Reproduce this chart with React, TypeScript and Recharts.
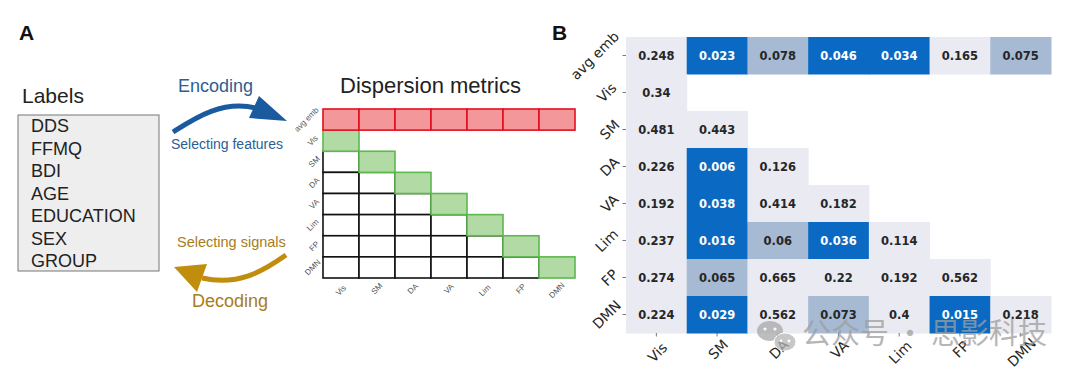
import { ScatterChart, Scatter, XAxis, YAxis } from "recharts";

// ── data ─────────────────────────────────────────────
const ROWS = ["avg emb", "Vis", "SM", "DA", "VA", "Lim", "FP", "DMN"];
const COLS = ["Vis", "SM", "DA", "VA", "Lim", "FP", "DMN"];

const avgEmb = [0.248, 0.023, 0.078, 0.046, 0.034, 0.165, 0.075];
const vis = [0.34];
const sm = [0.481, 0.443];
const da = [0.226, 0.006, 0.126];
const va = [0.192, 0.038, 0.414, 0.182];
const lim = [0.237, 0.016, 0.06, 0.036, 0.114];
const fp = [0.274, 0.065, 0.665, 0.22, 0.192, 0.562];
const dmn = [0.224, 0.029, 0.562, 0.073, 0.4, 0.015, 0.218];
const pRows = [avgEmb, vis, sm, da, va, lim, fp, dmn];

const LABELS = ["DDS", "FFMQ", "BDI", "AGE", "EDUCATION", "SEX", "GROUP"];

// panel A grid kinds: avg emb row red, diagonal green, below diagonal white
const gridA = ROWS.flatMap((_, r) =>
  COLS.map((_, c) => ({
    x: c,
    y: r,
    kind: r === 0 ? "red" : c === r - 1 ? "green" : c < r - 1 ? "white" : null,
  }))
).filter((d) => d.kind !== null)
 .sort((a, b) => order(a.kind) - order(b.kind));

function order(k: string | null) {
  return k === "white" ? 0 : k === "green" ? 1 : 2;
}

const heatB = pRows.flatMap((vals, r) => vals.map((v, c) => ({ x: c, y: r, v })));

const SANS = "'Liberation Sans', Arial, sans-serif";
const DEJA = "'DejaVu Sans', sans-serif";

function cellColor(v: number) {
  if (v < 0.05) return "#0A6AC3";
  if (v < 0.1) return "#A6BAD4";
  return "#EAEAF2";
}

// rotated label centred at (cx, cy)
function RotText({ cx, cy, text, fs, fill, family }: any) {
  return (
    <text
      x={cx} y={cy}
      transform={`rotate(-45 ${cx} ${cy})`}
      textAnchor="middle" dominantBaseline="central"
      fontSize={fs} fill={fill} fontFamily={family}
    >
      {text}
    </text>
  );
}

function side(text: string, fs: number, k: number) {
  return 0.707 * (text.length * k * fs + fs * 0.9);
}

// ── panel B ticks ───────────────────────────────────
function XTickB({ x, y, payload }: any) {
  const t = COLS[payload.value];
  const s = side(t, 14, 0.6);
  return (
    <g>
      <line x1={x} x2={x} y1={y} y2={y + 3.5} stroke="#555" strokeWidth={0.8} />
      <RotText cx={x + 1} cy={y + 6 + s / 2} text={t} fs={14} fill="#262626" family={DEJA} />
    </g>
  );
}

function YTickB({ x, y, payload }: any) {
  const t = ROWS[payload.value];
  const s = side(t, 14, 0.6);
  return (
    <g>
      <line x1={x - 3.5} x2={x} y1={y} y2={y} stroke="#555" strokeWidth={0.8} />
      <RotText cx={x - 6 - s / 2} cy={y} text={t} fs={14} fill="#262626" family={DEJA} />
    </g>
  );
}

// ── panel A ticks ───────────────────────────────────
function XTickA({ x, y, payload }: any) {
  const t = COLS[payload.value];
  const s = side(t, 8, 0.58);
  return <RotText cx={x} cy={y + 5 + s / 2} text={t} fs={8} fill="#555" family={SANS} />;
}

function YTickA({ x, y, payload }: any) {
  const t = ROWS[payload.value];
  const s = side(t, 8, 0.55);
  return <RotText cx={x - 3 - s / 2} cy={y} text={t} fs={8} fill="#555" family={SANS} />;
}

// cell sizes follow plot area / number of categories
const B_W = 425, B_H = 296;
const A_W = 252, A_H = 169;

function CellB(props: any) {
  const { cx, cy, payload } = props;
  const cw = B_W / COLS.length, ch = B_H / ROWS.length;
  const v = payload.v as number;
  return (
    <g>
      <rect x={cx - cw / 2} y={cy - ch / 2} width={cw + 0.5} height={ch + 0.5} fill={cellColor(v)} />
      <text
        x={cx} y={cy} textAnchor="middle" dominantBaseline="central"
        fontSize={11.5} fontWeight="bold" fontFamily={DEJA}
        fill={v < 0.05 ? "#ffffff" : "#262626"}
      >
        {String(v)}
      </text>
    </g>
  );
}

function CellA(props: any) {
  const { cx, cy, payload } = props;
  const cw = A_W / COLS.length, ch = A_H / ROWS.length;
  const style =
    payload.kind === "red"
      ? { fill: "#F4979B", stroke: "#E3101E" }
      : payload.kind === "green"
      ? { fill: "#B2DAA4", stroke: "#5DB84E" }
      : { fill: "#ffffff", stroke: "#111111" };
  return (
    <rect
      x={cx - cw / 2} y={cy - ch / 2} width={cw} height={ch}
      fill={style.fill} stroke={style.stroke} strokeWidth={1.6}
    />
  );
}

const idxCols = COLS.map((_, i) => i);
const idxRows = ROWS.map((_, i) => i);

export default function App() {
  return (
    <div style={{ position: "absolute", left: 0, top: 0, width: 1080, height: 381, background: "#fff", overflow: "hidden" }}>
      {/* Panel A grid */}
      <div style={{ position: "absolute", left: 0, top: 0 }}>
        <ScatterChart width={600} height={381} margin={{ top: 109, right: 25, bottom: 73, left: 293 }}>
          <XAxis
            type="number" dataKey="x" domain={[-0.5, 6.5]} ticks={idxCols} interval={0}
            height={30} tickSize={0} tickMargin={0} axisLine={false} tickLine={false} tick={<XTickA />}
          />
          <YAxis
            type="number" dataKey="y" domain={[-0.5, 7.5]} ticks={idxRows} interval={0} reversed
            width={30} tickSize={0} tickMargin={0} axisLine={false} tickLine={false} tick={<YTickA />}
          />
          <Scatter data={gridA} shape={CellA} isAnimationActive={false} />
        </ScatterChart>
      </div>

      {/* Panel B heatmap */}
      <div style={{ position: "absolute", left: 560, top: 0 }}>
        <ScatterChart width={520} height={381} margin={{ top: 37, right: 29, bottom: 8, left: 6 }}>
          <XAxis
            type="number" dataKey="x" domain={[-0.5, 6.5]} ticks={idxCols} interval={0}
            height={40} tickSize={0} tickMargin={0} axisLine={false} tickLine={false} tick={<XTickB />}
          />
          <YAxis
            type="number" dataKey="y" domain={[-0.5, 7.5]} ticks={idxRows} interval={0} reversed
            width={60} tickSize={0} tickMargin={0} axisLine={false} tickLine={false} tick={<YTickB />}
          />
          <Scatter data={heatB} shape={CellB} isAnimationActive={false} />
        </ScatterChart>
      </div>

      {/* annotations */}
      <svg width={1080} height={381} style={{ position: "absolute", left: 0, top: 0, pointerEvents: "none" }}>
        <text x={19} y={40} fontSize={21} fontWeight="bold" fontFamily={SANS} fill="#111">A</text>
        <text x={552} y={40} fontSize={21} fontWeight="bold" fontFamily={SANS} fill="#111">B</text>

        <text x={22} y={103} fontSize={21} fontFamily={SANS} fill="#222">Labels</text>
        <rect x={18} y={115} width={141} height={156} fill="#EEEEEE" stroke="#777" strokeWidth={1} />
        {LABELS.map((l, i) => (
          <text key={l} x={31} y={132 + i * 22.5} fontSize={18} fontFamily={SANS} fill="#222">{l}</text>
        ))}

        <text x={178} y={92} fontSize={18} fontFamily={SANS} fill="#2D5E94">Encoding</text>
        <path d="M173,132 C195,118 222,100 256,108" fill="none" stroke="#1A5A9E" strokeWidth={5} />
        <polygon points="259,96 287,121 249,118" fill="#1A5A9E" />
        <text x={171} y={149} fontSize={14} fontFamily={SANS} fill="#2D5E94">Selecting features</text>

        <text x={177} y={247} fontSize={14.5} fontFamily={SANS} fill="#A67C1C">Selecting signals</text>
        <path d="M286,255 C262,272 238,286 202,278" fill="none" stroke="#C08D0D" strokeWidth={5} />
        <polygon points="174,267 207,264 197,292" fill="#C08D0D" />
        <text x={192} y={307} fontSize={18} fontFamily={SANS} fill="#A67C1C">Decoding</text>

        <text x={340} y={93} fontSize={22} fontFamily={SANS} fill="#222">Dispersion metrics</text>

        {/* watermark */}
        <g opacity={0.75}>
          <ellipse cx={770} cy={331} rx={13} ry={10} fill="#A8A8A8" />
          <ellipse cx={785} cy={342} rx={11} ry={9} fill="#B5B5B5" stroke="#fff" strokeWidth={1} />
          <circle cx={765} cy={329} r={1.6} fill="#fff" />
          <circle cx={775} cy={329} r={1.6} fill="#fff" />
          <circle cx={781} cy={341} r={1.4} fill="#fff" />
          <circle cx={789} cy={341} r={1.4} fill="#fff" />
          <text x={802} y={344} fontSize={29} fontFamily="'Noto Sans CJK SC', sans-serif" fill="#9E9E9E">
            公众号 · 思影科技
          </text>
        </g>
      </svg>
    </div>
  );
}
